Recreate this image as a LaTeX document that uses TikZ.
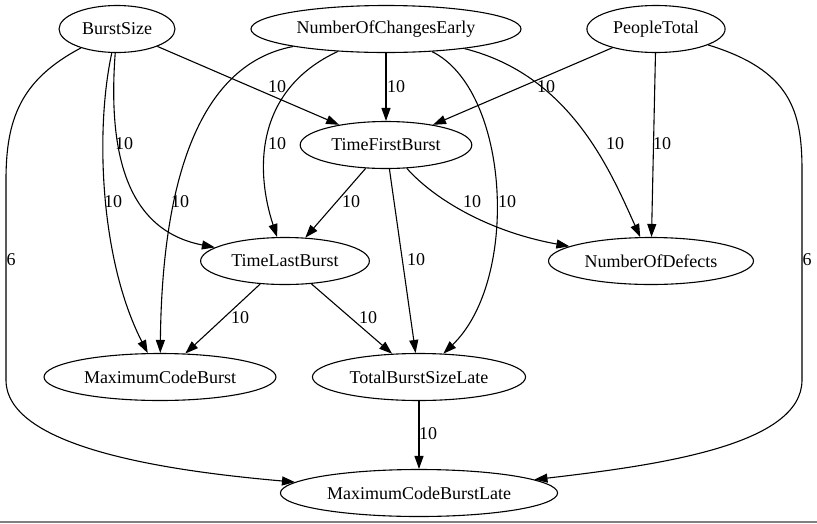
\documentclass[tikz,border=0pt]{standalone}
\usepackage{fontspec}
\setmainfont{Liberation Serif}
\usetikzlibrary{shapes.geometric,arrows.meta}

\tikzset{
  var/.style={ellipse, draw, line width=1.1pt, minimum height=47pt,
              inner xsep=6pt, inner ysep=0pt},
  kante/.style={line width=1.1pt, -{Triangle[length=13pt,width=9pt]}},
  gewicht/.style={inner sep=0pt}
}

\begin{document}
\begin{tikzpicture}[x=1pt, y=-1pt, font=\fontsize{18}{22}\selectfont]
  \useasboundingbox (0,0) rectangle (817,523);
  % Knoten
  \node [var] (bs)   at (117, 29) {BurstSize};
  \node [var] (nce)  at (386, 29) {NumberOfChangesEarly};
  \node [var] (pt)   at (656, 29) {PeopleTotal};
  \node [var] (tfb)  at (386,145) {TimeFirstBurst};
  \node [var] (tlb)  at (285,261) {TimeLastBurst};
  \node [var] (nod)  at (651,261) {NumberOfDefects};
  \node [var] (mcb)  at (160,377) {MaximumCodeBurst};
  \node [var] (tbsl) at (419,377) {TotalBurstSizeLate};
  \node [var] (mcbl) at (419,493) {MaximumCodeBurstLate};
  % Kanten
  \draw [kante] (bs) -- (tfb) node [gewicht] (w1) at (277,87) {10};
  \draw [kante] (bs) .. controls (108,150) and (125,230) .. (tlb)
        node [gewicht] (w2) at (124,144) {10};
  \draw [kante] (bs) .. controls (95,130) and (100,260) .. (mcb)
        node [gewicht] (w3) at (113,202) {10};
  \draw [kante] (bs) .. controls (20,80) and (6,120) .. (6,180) -- (6,380)
        .. controls (6,450) and (180,472) .. (mcbl)
        node [gewicht] (w4) at (11,260) {6};
  \draw [kante] (nce) -- (tfb) node [gewicht] (w5) at (396,87) {10};
  \draw [kante] (nce) .. controls (255,90) and (255,170) .. (tlb)
        node [gewicht] (w6) at (277,144) {10};
  \draw [kante] (nce) .. controls (195,65) and (162,190) .. (mcb)
        node [gewicht] (w7) at (180,202) {10};
  \draw [kante] (nce) .. controls (510,90) and (520,280) .. (tbsl)
        node [gewicht] (w8) at (507,202) {10};
  \draw [kante] (nce) .. controls (570,75) and (610,170) .. (nod)
        node [gewicht] (w9) at (615,144) {10};
  \draw [kante] (pt) -- (tfb) node [gewicht] (w10) at (546,87) {10};
  \draw [kante] (pt) -- (nod) node [gewicht] (w11) at (662,144) {10};
  \draw [kante] (pt) .. controls (790,70) and (802,110) .. (802,170) -- (802,380)
        .. controls (802,445) and (660,465) .. (mcbl)
        node [gewicht] (w12) at (807,260) {6};
  \draw [kante] (tfb) -- (tlb) node [gewicht] (w13) at (351,202) {10};
  \draw [kante] (tfb) .. controls (435,200) and (490,232) .. (nod)
        node [gewicht] (w14) at (472,202) {10};
  \draw [kante] (tfb) -- (tbsl) node [gewicht] (w15) at (416,260) {10};
  \draw [kante] (tlb) -- (mcb) node [gewicht] (w16) at (240,318) {10};
  \draw [kante] (tlb) -- (tbsl) node [gewicht] (w17) at (368,318) {10};
  \draw [kante] (tbsl) -- (mcbl) node [gewicht] (w18) at (428,434) {10};
  % Rand
  \fill [gray] (0,521) rectangle (817,523);
\end{tikzpicture}
\end{document}
